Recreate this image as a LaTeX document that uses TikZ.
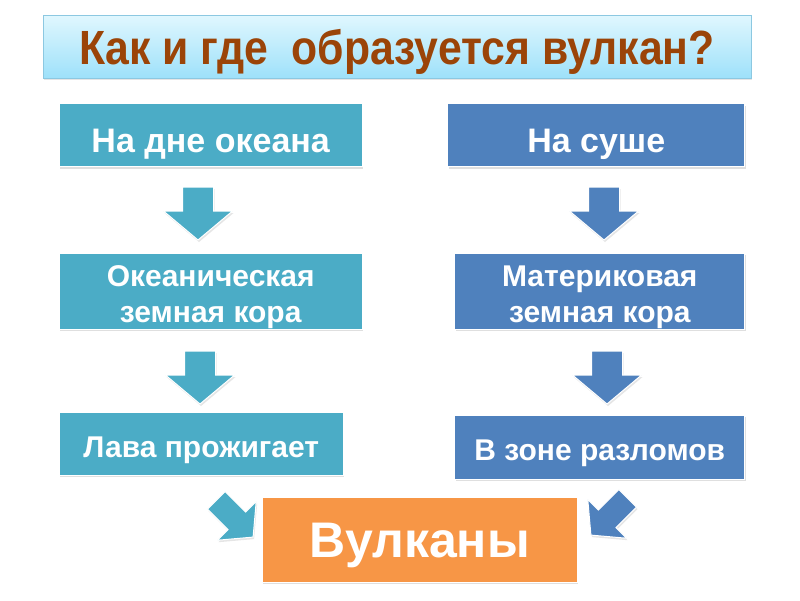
\documentclass[tikz,border=0pt]{standalone}
\usepackage{fontspec}
\setmainfont{Liberation Sans}
\newfontfamily\titlefont[FakeStretch=0.89]{Liberation Sans}
\usepackage{xcolor}
\usetikzlibrary{shapes.arrows, positioning, shadows}

\definecolor{oceanteal}{RGB}{75,172,198}
\definecolor{landblue}{RGB}{79,129,189}
\definecolor{volcorange}{RGB}{247,150,70}
\definecolor{titlebrown}{RGB}{155,68,8}
\definecolor{titletop}{RGB}{224,247,254}
\definecolor{titlebottom}{RGB}{158,225,250}
\definecolor{titleedge}{RGB}{140,200,225}

\begin{document}
\begin{tikzpicture}[x=1pt, y=-1pt, font=\bfseries]
    % Node Styles
    \tikzstyle{block} = [rectangle, draw=white, line width=0.8pt, text=white, align=center, inner sep=0pt, minimum height=63pt, drop shadow={shadow xshift=1pt, shadow yshift=-2pt, opacity=0.25}]
    \tikzstyle{ocean} = [block, fill=oceanteal]
    \tikzstyle{land} = [block, fill=landblue]
    \tikzstyle{big} = [font=\bfseries\fontsize{34}{40}\selectfont, text height=34pt, text depth=0pt]
    \tikzstyle{small} = [font=\bfseries\fontsize{30}{36}\selectfont, text height=27pt, text depth=0pt]
    \tikzstyle{twoline} = [font=\bfseries\fontsize{30}{36}\selectfont, minimum height=76pt]
    \tikzstyle{heading} = [rectangle, draw=titleedge, top color=titletop, bottom color=titlebottom, minimum width=708pt, minimum height=63pt, text=titlebrown, font=\titlefont\bfseries\fontsize{48}{56}\selectfont, text height=35pt, text depth=0pt, drop shadow={shadow xshift=1pt, shadow yshift=-2pt, opacity=0.2}]
    \tikzstyle{down} = [single arrow, draw=white, line width=1pt, minimum height=53pt, single arrow head extend=19pt, single arrow tip angle=100, inner xsep=0pt, inner ysep=15pt, drop shadow={shadow xshift=1pt, shadow yshift=-2pt, opacity=0.2}]
    \tikzstyle{slant} = [down, minimum height=52pt, single arrow head extend=15pt, inner ysep=12pt]

    \fill[white] (0,0) rectangle (800,600);
    \useasboundingbox (0,0) rectangle (800,600);

    % Title
    \node[heading] (title) at (397,46.5) {Как и где~ образуется вулкан?};

    % Ocean side
    \node[ocean, big, minimum width=303pt, below right=25pt and 16pt of title.south west] (oceanfloor) {На дне океана};
    \node[ocean, twoline, minimum width=303pt, below=86pt of oceanfloor.south west, anchor=north west] (oceancrust) {\rule{0pt}{32pt}Океаническая\\земная кора};
    \node[ocean, small, minimum width=284pt, below=82pt of oceancrust.south west, anchor=north west] (lava) {Лава прожигает};

    % Land side
    \node[land, big, minimum width=297pt, below left=25pt and 6pt of title.south east] (dryland) {На суше};
    \node[land, twoline, minimum width=290pt, below=86pt of dryland.south east, anchor=north east] (landcrust) {\rule{0pt}{32pt}Материковая\\земная кора};
    \node[land, small, minimum width=290pt, minimum height=64pt, below=85pt of landcrust.south east, anchor=north east] (faults) {В зоне разломов};

    % Result
    \node[block, fill=volcorange, minimum width=315pt, minimum height=85pt, font=\bfseries\fontsize{50}{60}\selectfont, text height=36pt, text depth=0pt] (volcano) at (419.5,539.5) {Вулканы};

    % Block arrows
    \node[down, fill=oceanteal, rotate=-90] (oceanarrow1) at (198,207) {};
    \node[down, fill=oceanteal, rotate=-90] (oceanarrow2) at (200,371) {};
    \node[down, fill=landblue, rotate=-90] (landarrow1) at (604,207) {};
    \node[down, fill=landblue, rotate=-90] (landarrow2) at (607,371) {};
    \node[slant, fill=oceanteal, rotate=-45] (oceanarrow3) at (231,515) {};
    \node[slant, fill=landblue, rotate=-135] (landarrow3) at (613,513) {};
\end{tikzpicture}
\end{document}
